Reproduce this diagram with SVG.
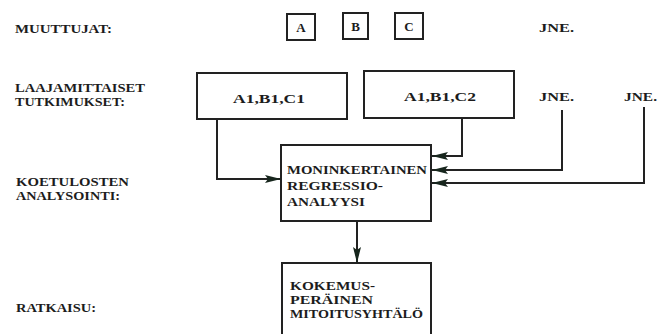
<svg xmlns="http://www.w3.org/2000/svg" width="658" height="334" viewBox="0 0 658 334">
<defs>
<style>
.t{font-family:"Liberation Serif","DejaVu Serif",serif;font-size:13px;fill:#1c1c1c;font-weight:bold}
.lb{font-size:12px}
.box{fill:#fff;stroke:#222;stroke-width:2}
.ln{fill:none;stroke:#222;stroke-width:2}
</style>
<marker id="ah" viewBox="0 0 16 8" refX="16" refY="4" markerWidth="16" markerHeight="8" markerUnits="userSpaceOnUse" orient="auto">
<path d="M0,0 L16,4 L0,8 L3,4 Z" fill="#17261d"/>
</marker>
</defs>
<rect width="658" height="334" fill="#fff"/>
<g id="labels">
<text class="t lb" x="15" y="33" textLength="97" lengthAdjust="spacingAndGlyphs">MUUTTUJAT:</text>
<text class="t lb" x="15" y="92" textLength="130" lengthAdjust="spacingAndGlyphs">LAAJAMITTAISET</text>
<text class="t lb" x="15" y="106" textLength="110" lengthAdjust="spacingAndGlyphs">TUTKIMUKSET:</text>
<text class="t lb" x="16" y="186" textLength="113" lengthAdjust="spacingAndGlyphs">KOETULOSTEN</text>
<text class="t lb" x="16" y="200" textLength="104" lengthAdjust="spacingAndGlyphs">ANALYSOINTI:</text>
<text class="t lb" x="16" y="312" textLength="80" lengthAdjust="spacingAndGlyphs">RATKAISU:</text>
</g>
<g id="var-A"><rect class="box" x="287" y="14" width="28" height="26"/><text class="t" x="301" y="32" text-anchor="middle">A</text></g>
<g id="var-B"><rect class="box" x="343" y="13" width="25" height="26"/><text class="t" x="355.5" y="31" text-anchor="middle">B</text></g>
<g id="var-C"><rect class="box" x="395" y="13" width="28" height="26"/><text class="t" x="409" y="31" text-anchor="middle">C</text></g>
<g id="jne-top"><text class="t" x="539" y="32" textLength="35" lengthAdjust="spacingAndGlyphs">JNE.</text></g>
<g id="study-1"><rect class="box" x="197" y="73" width="150" height="46"/><text class="t" x="233" y="103" textLength="72" lengthAdjust="spacingAndGlyphs">A1,B1,C1</text></g>
<g id="study-2"><rect class="box" x="364" y="71" width="150" height="47"/><text class="t" x="404" y="101" textLength="72" lengthAdjust="spacingAndGlyphs">A1,B1,C2</text></g>
<g id="jne-mid"><text class="t" x="539" y="101" textLength="35" lengthAdjust="spacingAndGlyphs">JNE.</text></g>
<g id="jne-right"><text class="t" x="624" y="101" textLength="33" lengthAdjust="spacingAndGlyphs">JNE.</text></g>
<g id="regression"><rect class="box" x="281" y="145" width="150" height="76"/>
<text class="t" x="287" y="174" textLength="140" lengthAdjust="spacingAndGlyphs">MONINKERTAINEN</text>
<text class="t" x="287" y="190" textLength="96" lengthAdjust="spacingAndGlyphs">REGRESSIO-</text>
<text class="t" x="287" y="206" textLength="78" lengthAdjust="spacingAndGlyphs">ANALYYSI</text></g>
<g id="solution"><rect class="box" x="282" y="263" width="149" height="80"/>
<text class="t lb" x="290" y="290" textLength="85" lengthAdjust="spacingAndGlyphs">KOKEMUS-</text>
<text class="t lb" x="290" y="304" textLength="83" lengthAdjust="spacingAndGlyphs">PERÄINEN</text>
<text class="t lb" x="290" y="318" textLength="133" lengthAdjust="spacingAndGlyphs">MITOITUSYHTÄLÖ</text></g>
<g id="connectors">
<path class="ln" d="M217,119 V179 H281" marker-end="url(#ah)"/>
<path class="ln" d="M462,118 V156 H432" marker-end="url(#ah)"/>
<path class="ln" d="M562,110 V170 H432" marker-end="url(#ah)"/>
<path class="ln" d="M644,107 V183 H432" marker-end="url(#ah)"/>
<path class="ln" d="M357,221 V263" marker-end="url(#ah)"/>
</g>
</svg>
